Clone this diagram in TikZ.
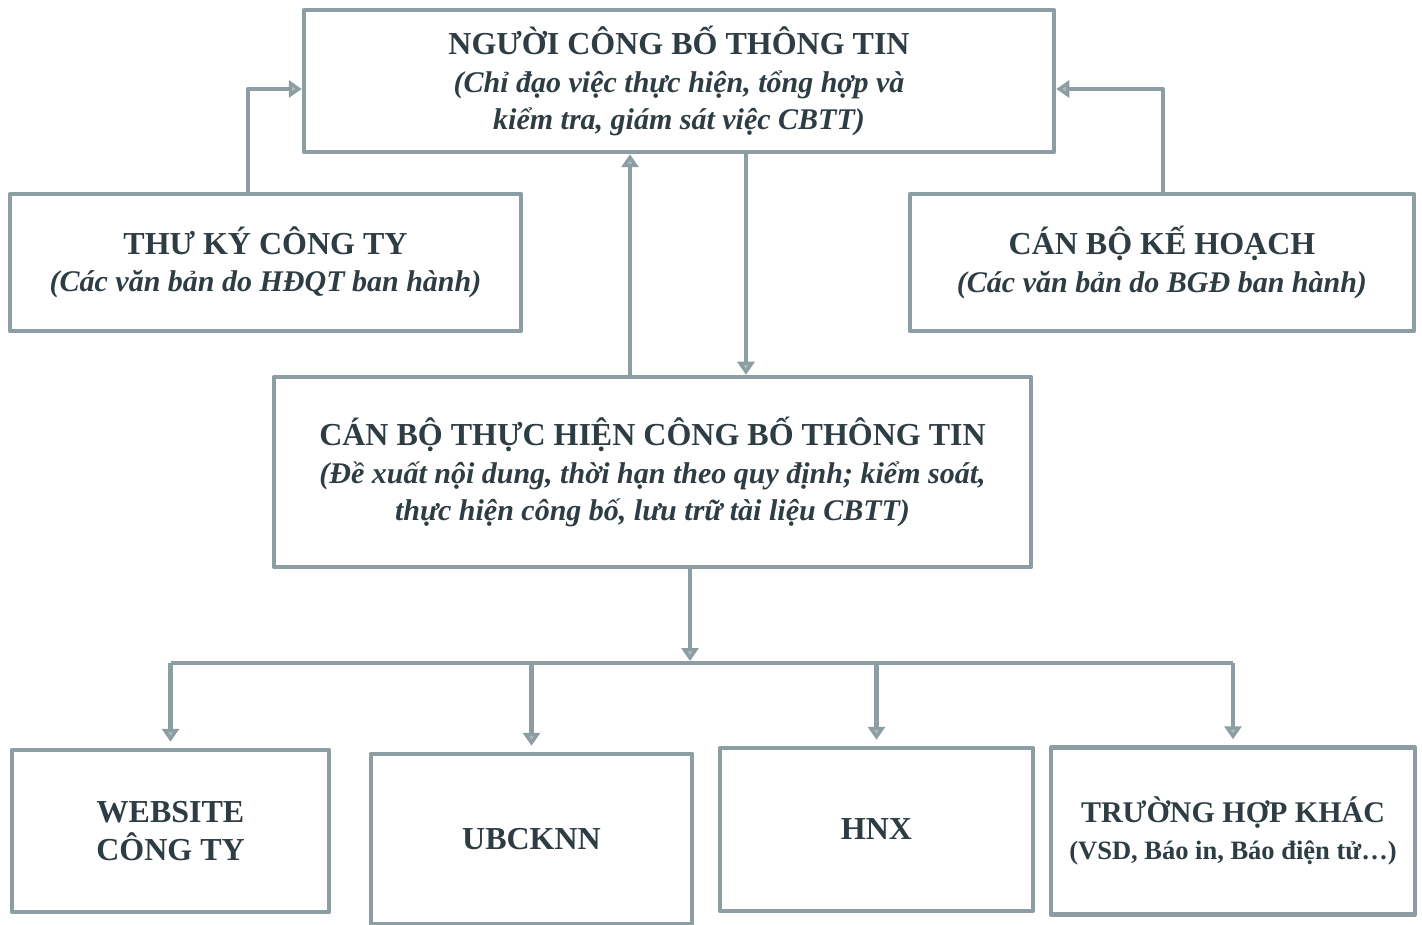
\documentclass[tikz,border=0pt]{standalone}
\usepackage{fontspec}
\setmainfont{Liberation Serif}
\usetikzlibrary{arrows.meta}
\definecolor{boxline}{HTML}{8C9DA3}
\definecolor{boxtext}{HTML}{2E3D43}
\newcommand\headsize{\fontsize{32}{37.5}\selectfont}
\newcommand\notesize{\fontsize{30}{37.5}\selectfont}
\begin{document}
\begin{tikzpicture}[line join=round, x=1pt, y=-1pt]
    \tikzset{
        info box/.style={draw=boxline, line width=4.5pt, fill=white, align=center,
            text=boxtext, inner sep=0pt,
            font=\headsize\bfseries},
        flow arrow/.style={draw=boxline, line width=4.5pt,
            -{Triangle[width=17pt, length=13pt, fill=boxline!70]}},
        bus line/.style={draw=boxline, line width=4.5pt}
    }
    \useasboundingbox (0,0) rectangle (1422,925);
    \node[info box, minimum width=750pt, minimum height=142pt] (nguoi) at (679,81)
        {NGƯỜI CÔNG BỐ THÔNG TIN\\ \notesize\itshape (Chỉ đạo việc thực hiện, tổng hợp và\\ \notesize\itshape kiểm tra, giám sát việc CBTT)};
    \node[info box, minimum width=511pt, minimum height=137pt] (thuky) at (265.5,262.5)
        {THƯ KÝ CÔNG TY\\ \notesize\itshape (Các văn bản do HĐQT ban hành)};
    \node[info box, minimum width=504pt, minimum height=137pt] (kehoach) at (1162,262.5)
        {CÁN BỘ KẾ HOẠCH\\ \notesize\itshape (Các văn bản do BGĐ ban hành)};
    \node[info box, minimum width=757pt, minimum height=190pt] (canbo) at (652.5,472)
        {CÁN BỘ THỰC HIỆN CÔNG BỐ THÔNG TIN\\ \notesize\itshape (Đề xuất nội dung, thời hạn theo quy định; kiểm soát,\\ \notesize\itshape thực hiện công bố, lưu trữ tài liệu CBTT)};
    \node[info box, minimum width=317pt, minimum height=162pt] (web) at (170.5,831)
        {WEBSITE\\ CÔNG TY};
    \node[info box, minimum width=321pt, minimum height=170pt] (ubck) at (531.5,839)
        {UBCKNN};
    \node[info box, minimum width=313pt, minimum height=163pt] (hnx) at (876.5,829.5)
        {HNX};
    \node[info box, minimum width=364pt, minimum height=167pt, font=\notesize\bfseries] (khac) at (1233,831)
        {TRƯỜNG HỢP KHÁC\\ {\fontsize{26.5}{30}\selectfont (VSD, Báo in, Báo điện tử…)}};

    \draw[flow arrow] ([xshift=-17.5pt]thuky.north) |- ([yshift=-8pt]nguoi.west);
    \draw[flow arrow] ([xshift=1pt]kehoach.north) |- ([yshift=-8pt]nguoi.east);
    \draw[flow arrow] (canbo.north -| 630,0) -- (nguoi.south -| 630,0);
    \draw[flow arrow] (nguoi.south -| 746,0) -- (canbo.north -| 746,0);

    \coordinate (bus) at (690,663);
    \draw[flow arrow, shorten >=2pt] (canbo.south -| bus) -- (bus);
    \draw[bus line] (web.north |- bus) -- (khac.north |- bus);
    \foreach \n in {web, ubck, hnx, khac}{
        \draw[flow arrow, shorten >=6pt] (\n.north |- bus) -- (\n.north);
    }
\end{tikzpicture}
\end{document}
